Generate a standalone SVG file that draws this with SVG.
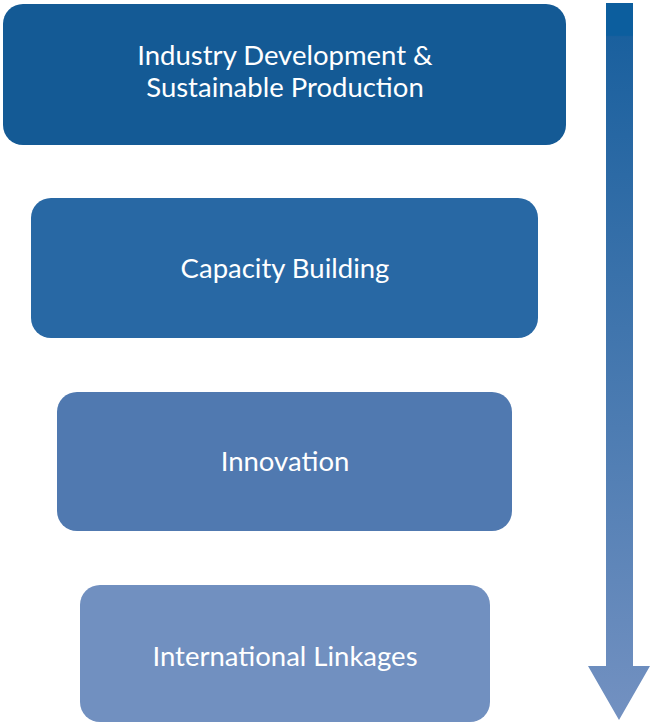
<svg xmlns="http://www.w3.org/2000/svg" width="653" height="724" viewBox="0 0 653 724">
<style>
.lbl{font-family:"Lato","Open Sans","Liberation Sans",sans-serif;font-size:27.5px;fill:#ffffff;text-anchor:middle}
</style>
<defs>
<linearGradient id="ag" x1="0" y1="0" x2="0" y2="1">
<stop offset="0" stop-color="#0c5e9e"/>
<stop offset="0.045" stop-color="#0c5e9e"/>
<stop offset="0.047" stop-color="#1a609e"/>
<stop offset="1" stop-color="#7391c1"/>
</linearGradient>
</defs>
<g id="connectors">
<path d="M606 3 H633 V666 H650 L619 720 L588 666 H606 Z" fill="url(#ag)"/>
</g>
<g id="n1">
<rect x="3" y="4" width="563" height="141" rx="20" fill="#145a95"/>
<text class="lbl" x="285" y="65">Industry Development &amp;</text>
<text class="lbl" x="285" y="97">Sustainable Production</text>
</g>
<g id="n2">
<rect x="31" y="198" width="507" height="140" rx="20" fill="#2868a4"/>
<text class="lbl" x="285" y="278">Capacity Building</text>
</g>
<g id="n3">
<rect x="57" y="392" width="455" height="139" rx="20" fill="#5079b0"/>
<text class="lbl" x="285" y="471">Innovation</text>
</g>
<g id="n4">
<rect x="80" y="585" width="410" height="137" rx="20" fill="#7190c0"/>
<text class="lbl" x="285" y="666">International Linkages</text>
</g>
</svg>
